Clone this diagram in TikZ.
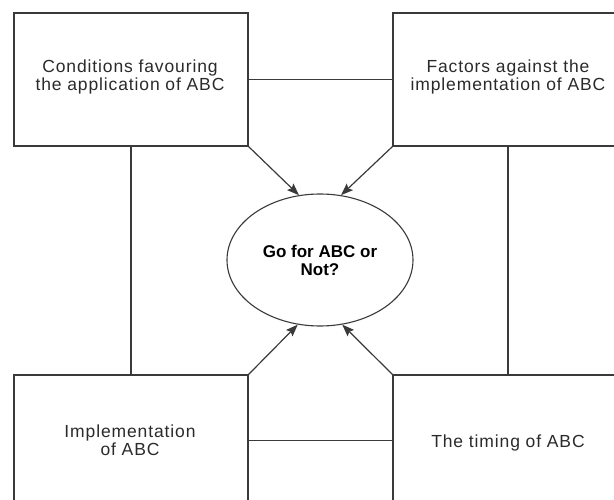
\documentclass[tikz,border=0pt]{standalone}
\usepackage{fontspec}
\setmainfont{Liberation Sans}[LetterSpace=5,BoldFeatures={LetterSpace=0}]
\usetikzlibrary{shapes.geometric,arrows.meta}
\definecolor{linec}{HTML}{3A3A3A}
\definecolor{textc}{HTML}{2A2A2A}
\tikzset{
  box/.style={draw=linec,line width=1.2pt,minimum width=234pt,minimum height=133pt,inner sep=0pt},
  label/.style={align=center,text=textc,font=\fontsize{17.5}{18}\selectfont,inner sep=0pt},
  link/.style={draw=linec,line width=1.2pt},
  arr/.style={draw=linec,line width=1.2pt,-{Stealth[length=12pt,width=9pt,inset=2pt]}},
  decision/.style={ellipse,draw=linec,line width=1.1pt,minimum width=186pt,minimum height=132pt,
    align=center,text=black,font=\bfseries\fontsize{17}{18}\selectfont,inner sep=0pt}
}
\begin{document}
\begin{tikzpicture}[x=1pt,y=-1pt]
\useasboundingbox (0,0) rectangle (614,500);
\begin{scope}
\clip (0,0) rectangle (614,500);
\node[box] (tl) at (131,79.5) {};
\node[box,minimum width=230pt] (tr) at (508,79.5) {};
\node[box,minimum height=131pt] (bl) at (131,440.5) {};
\node[box,minimum width=230pt,minimum height=131pt] (br) at (508,440.5) {};
\node[label] (tlt) at (130,77) {Conditions favouring\\the application of ABC};
\node[label] (trt) at (508,77) {Factors against the\\implementation of ABC};
\node[label] (blt) at (130,440) {Implementation\\of ABC};
\node[label] (brt) at (508,443) {The timing of ABC};
\node[decision] (go) at (320,260) {Go for ABC or\\Not?};
\draw[link] (tl.east) -- (tr.west);
\draw[link] (tl.south) -- (bl.north);
\draw[link] (tr.south) -- (br.north);
\draw[link] (bl.east) -- (br.west);
\draw[arr] (tl.south east) -- (go.108);
\draw[arr] (tr.south west) -- (go.72);
\draw[arr] (bl.north east) -- (go.251);
\draw[arr] (br.north west) -- (go.289);
\end{scope}
\end{tikzpicture}
\end{document}
